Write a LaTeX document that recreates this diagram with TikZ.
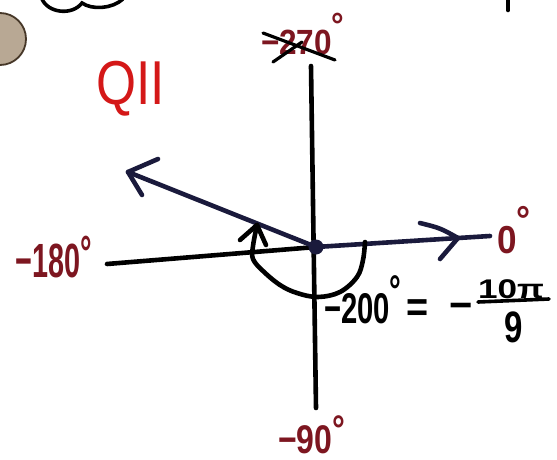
\documentclass[tikz,border=0pt]{standalone}
\usepackage{fontspec}
\setmainfont{Liberation Sans}
\usepackage{graphicx}
\definecolor{lab}{RGB}{125,22,32}
\definecolor{qred}{RGB}{212,24,24}
\definecolor{navy}{RGB}{26,26,60}
\definecolor{dotfill}{RGB}{184,168,148}
\definecolor{dotline}{RGB}{70,55,40}
\newcommand\hwx[2]{\scalebox{#1}[1]{#2}}
\newcommand\dgr[1]{\raisebox{#1}{°}}
\begin{document}
\begin{tikzpicture}[x=1pt,y=-1pt,
  axis/.style={line width=4.6pt, black, line cap=round, line join=round},
  ray/.style={line width=4.6pt, navy, line cap=round, line join=round},
  lbl/.style={inner sep=0pt, outer sep=0pt, anchor=base west, text=lab},
  blk/.style={inner sep=0pt, outer sep=0pt, anchor=base west, text=black},
]
\useasboundingbox (0,0) rectangle (557,460);
\fill[white] (0,0) rectangle (557,460);
% coordinates
\coordinate (O) at (316,247);
\coordinate (Top) at (311,66);
\coordinate (Bot) at (316,408);
\coordinate (L) at (107,264);
\coordinate (R) at (490,236);
\coordinate (Q) at (128,172);
\coordinate (QA) at (158,159);
\coordinate (QB) at (142,195);
\coordinate (RT) at (458,238);
\coordinate (RA) at (420,223);
\coordinate (RB) at (440,259);
\coordinate (ST) at (257,225);
\coordinate (SA) at (240,240);
\coordinate (SB) at (266,245);
% decorations at top
\filldraw[fill=dotfill, draw=dotline, line width=1.8pt] (0,39) circle (26);
\draw[line width=3.6pt, black] (42,-1) .. controls (48,13) and (72,16) .. (82,3) .. controls (92,10) and (112,9) .. (123,-1);
\draw[line width=4.6pt, line cap=round] (508,-2) -- (508,10);
% axes
\draw[axis] (Top) -- (Bot);
\draw[axis] (L) -- (O);
\draw[ray] (O) -- (R);
\draw[ray] (O) -- (Q);
% arrow heads
\draw[ray] (QA) -- (Q) -- (QB);
\draw[ray] (RA) .. controls (440,228) .. (RT) -- (RB);
% angle arc
\draw[axis] plot[smooth, tension=0.6] coordinates {(365,242) (363,260) (357,277) (340,292) (318,297) (297,293) (280,285) (263,271) (253,259) (253,246) (ST)};
\draw[axis] (SA) -- (ST) -- (SB);
% origin
\fill[navy] (O) circle (7.5);
% labels
\node[lbl, font=\bfseries\fontsize{48}{48}\selectfont] (n180) at (16,277) {\hwx{0.6}{−180\dgr{8pt}}};
\node[lbl, font=\bfseries\fontsize{40}{40}\selectfont] (n90) at (278,453) {\hwx{0.8}{−90\dgr{10pt}}};
\node[lbl, font=\bfseries\fontsize{39}{39}\selectfont] (n0) at (497,253) {\hwx{0.9}{0\dgr{20pt}}};
\node[lbl, font=\bfseries\fontsize{35}{35}\selectfont] (n270) at (261,55) {\hwx{0.9}{−270\dgr{17pt}}};
\draw[line width=3.2pt, black, line cap=round] (263,33) -- (335,60);
\draw[line width=3.2pt, black, line cap=round] (273,62) -- (302,42);
\node[blk, font=\bfseries\fontsize{43}{43}\selectfont] (n200) at (324,323) {\hwx{0.68}{−200\dgr{18pt}}};
\node[blk, font=\bfseries\fontsize{42}{42}\selectfont] (eq) at (406,321) {\hwx{0.9}{=}};
\node[blk, font=\bfseries\fontsize{42}{42}\selectfont] (mn) at (449,319) {\hwx{0.95}{−}};
\node[blk, font=\bfseries\fontsize{27}{27}\selectfont] (num) at (478,298) {\hwx{1.3}{10π}};
\draw[line width=3.6pt, black, line cap=round] (478,302) -- (549,299);
\node[blk, font=\bfseries\fontsize{44}{44}\selectfont] (den) at (504,342) {\hwx{0.75}{9}};
\node[inner sep=0pt, outer sep=0pt, anchor=base west, text=qred, font=\fontsize{62}{62}\selectfont] (q2) at (96,104) {\hwx{0.83}{QII}};
\end{tikzpicture}
\end{document}
